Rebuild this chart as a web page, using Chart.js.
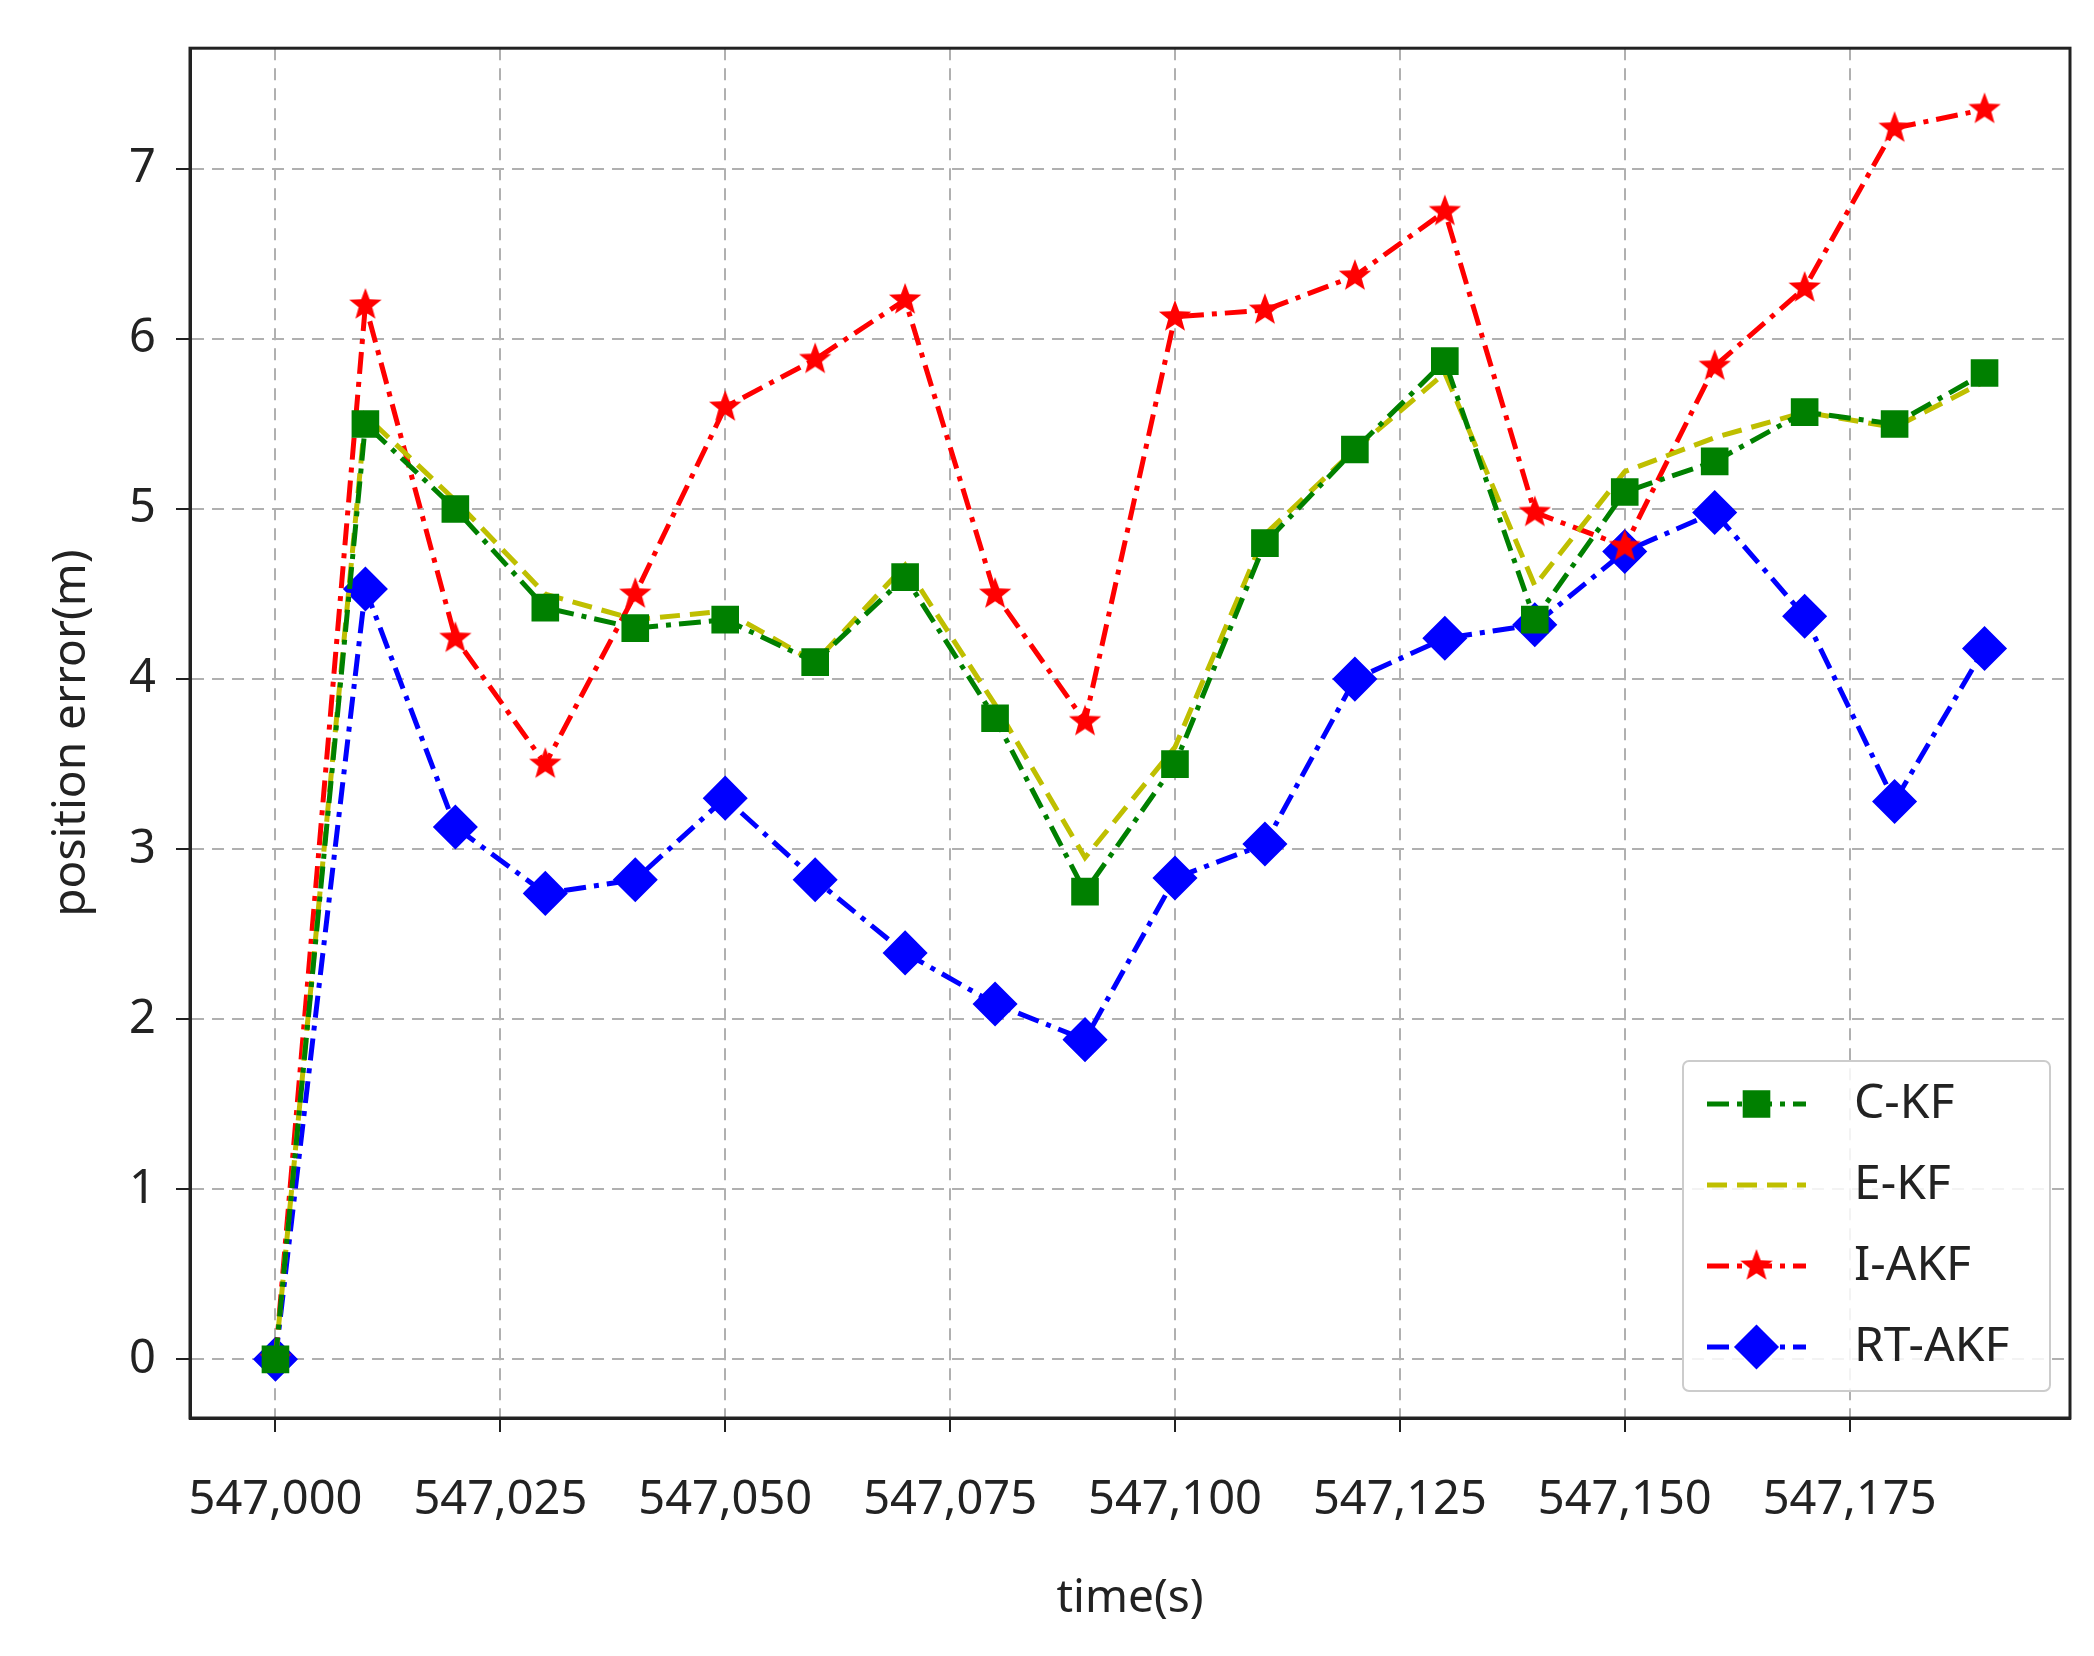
<!DOCTYPE html>
<html>
<head>
<meta charset="utf-8">
<script src="https://cdn.jsdelivr.net/npm/chart.js@4"></script>
<style>
  html, body { margin: 0; padding: 0; background: #fff; }
  #wrap { width: 2094px; height: 1656px; }
</style>
</head>
<body>
<div id="wrap"><canvas id="chart"></canvas></div>
<script>
const times = [547000, 547010, 547020, 547030, 547040, 547050, 547060, 547070, 547080, 547090,
  547100, 547110, 547120, 547130, 547140, 547150, 547160, 547170, 547180, 547190];
const ckf = [0, 5.5, 5.0, 4.42, 4.3, 4.35, 4.1, 4.6, 3.77, 2.75, 3.5, 4.8, 5.35, 5.87, 4.35, 5.1, 5.28, 5.57, 5.5, 5.8];
const ekf = [0, 5.55, 5.05, 4.5, 4.35, 4.4, 4.1, 4.67, 3.85, 2.95, 3.6, 4.85, 5.35, 5.8, 4.55, 5.22, 5.42, 5.57, 5.48, 5.75];
const iakf = [0, 6.2, 4.24, 3.5, 4.5, 5.6, 5.88, 6.23, 4.5, 3.75, 6.13, 6.17, 6.37, 6.75, 4.98, 4.78, 5.84, 6.3, 7.24, 7.35];
const rtakf = [0, 4.53, 3.13, 2.74, 2.82, 3.3, 2.82, 2.39, 2.09, 1.88, 2.83, 3.03, 4.0, 4.24, 4.32, 4.75, 4.98, 4.37, 3.28, 4.18];
const xTicks = [547000, 547025, 547050, 547075, 547100, 547125, 547150, 547175];
const yTicks = [0, 1, 2, 3, 4, 5, 6, 7];

const FONT = "'Noto Sans', 'DejaVu Sans', sans-serif";
const dashDot = [22, 8, 5, 8];

function pts(vals) {
  return vals.map((v, i) => ({ x: times[i], y: v }));
}

// five-pointed star marker
function starImage(color, r) {
  const c = document.createElement("canvas");
  c.width = c.height = r * 2 + 2;
  const g = c.getContext("2d");
  g.fillStyle = color;
  g.beginPath();
  for (let i = 0; i < 10; i++) {
    const rad = i % 2 === 0 ? r : r * 0.42;
    const ang = -Math.PI / 2 + i * Math.PI / 5;
    const px = r + 1 + rad * Math.cos(ang), py = r + 1 + rad * Math.sin(ang);
    if (i === 0) g.moveTo(px, py); else g.lineTo(px, py);
  }
  g.closePath();
  g.fill();
  return c;
}
const redStar = starImage("#ff0000", 17);

// legend drawn inside the plot area, lower right
const insideLegend = {
  id: "insideLegend",
  afterDraw(chart) {
    const ctx = chart.ctx;
    const a = chart.chartArea;
    const bx = a.right - 387, by = a.bottom - 357, bw = 367, bh = 330;
    ctx.save();
    ctx.fillStyle = "rgba(255,255,255,0.85)";
    ctx.strokeStyle = "#cccccc";
    ctx.lineWidth = 2;
    ctx.beginPath();
    ctx.roundRect(bx, by, bw, bh, 6);
    ctx.fill();
    ctx.stroke();
    chart.data.datasets.forEach((ds, i) => {
      const y = by + 43 + i * 81;
      const x0 = bx + 24, x1 = bx + 123;
      ctx.strokeStyle = ds.borderColor;
      ctx.lineWidth = ds.borderWidth;
      ctx.setLineDash(ds.borderDash || []);
      ctx.beginPath();
      ctx.moveTo(x0, y);
      ctx.lineTo(x1, y);
      ctx.stroke();
      ctx.setLineDash([]);
      if (ds.pointRadius > 0) {
        ctx.fillStyle = ds.borderColor;
        ctx.strokeStyle = ds.borderColor;
        Chart.helpers.drawPoint(ctx, {
          pointStyle: ds.pointStyle, radius: ds.pointRadius, borderWidth: 1
        }, (x0 + x1) / 2, y);
      }
      ctx.fillStyle = "#222";
      ctx.font = "48px " + FONT;
      ctx.textBaseline = "middle";
      ctx.fillText(ds.label, bx + 171, y);
    });
    ctx.restore();
  }
};

function series(label, data, color, dash, style, radius) {
  return {
    label, data: pts(data),
    borderColor: color, backgroundColor: color,
    pointBackgroundColor: color, pointBorderColor: color,
    borderWidth: 5, borderDash: dash,
    pointStyle: style, pointRadius: radius, pointHoverRadius: radius,
    tension: 0
  };
}

new Chart(document.getElementById("chart"), {
  type: "line",
  data: {
    datasets: [
      series("C-KF", ckf, "#008000", dashDot, "rect", 16),
      series("E-KF", ekf, "#bfbf00", [20, 10], false, 0),
      series("I-AKF", iakf, "#ff0000", dashDot, redStar, 17),
      series("RT-AKF", rtakf, "#0000ff", dashDot, "rectRot", 19)
    ]
  },
  options: {
    responsive: true,
    maintainAspectRatio: false,
    animation: false,
    layout: { padding: { top: -5, right: 9, left: 0, bottom: 0 } },
    plugins: { legend: { display: false }, tooltip: { enabled: false } },
    scales: {
      x: {
        type: "linear",
        min: 546990.5, max: 547199.5,
        afterBuildTicks: s => { s.ticks = xTicks.map(v => ({ value: v })); },
        afterFit: s => { s.height = 238; },
        ticks: {
          color: "#222", font: { size: 47, family: FONT }, padding: 40,
          maxRotation: 0, autoSkip: false,
          callback: v => v.toLocaleString("en-US")
        },
        grid: { color: "#b0b0b0", lineWidth: 2, tickLength: 14, tickColor: "#222" },
        border: { color: "#222", width: 3, dash: [12, 8] },
        title: { display: true, text: "time(s)", color: "#222", font: { size: 46, family: FONT }, padding: { top: 0, bottom: 30 } }
      },
      y: {
        min: -0.345, max: 7.71,
        afterBuildTicks: s => { s.ticks = yTicks.map(v => ({ value: v })); },
        afterFit: s => { s.width = 190; },
        ticks: { color: "#222", font: { size: 47, family: FONT }, padding: 20 },
        grid: { color: "#b0b0b0", lineWidth: 2, tickLength: 14, tickColor: "#222" },
        border: { color: "#222", width: 3, dash: [12, 8] },
        title: { display: true, text: "position error(m)", color: "#222", font: { size: 46, family: FONT }, padding: { top: 44, bottom: 4 } }
      }
    }
  },
  plugins: [insideLegend, {
    id: "frame",
    afterDraw(chart) {
      const a = chart.chartArea, ctx = chart.ctx;
      ctx.save();
      ctx.strokeStyle = "#222";
      ctx.lineWidth = 3;
      ctx.strokeRect(a.left, a.top, a.right - a.left, a.bottom - a.top);
      ctx.restore();
    }
  }]
});
</script>
</body>
</html>
